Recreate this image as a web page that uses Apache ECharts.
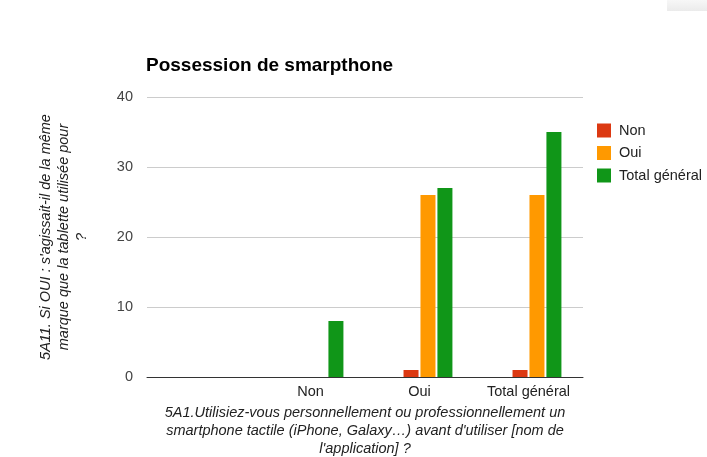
<!DOCTYPE html>
<html>
<head>
<meta charset="utf-8">
<script src="https://cdn.jsdelivr.net/npm/echarts@6/dist/echarts.min.js"></script>
<style>
html,body{margin:0;padding:0;background:#fff;}
#c{width:707px;height:457px;}
</style>
</head>
<body>
<div id="c"></div>
<script>
var categories = ['', 'Non', 'Oui', 'Total général'];
var seriesNames = ['Non', 'Oui', 'Total général'];
var valuesEmpty = [null, null, null, null];
var valuesNon = [null, null, 1, 1];
var valuesOui = [null, null, 26, 26];
var valuesTotal = [null, 8, 27, 35];
var yTicks = [0, 10, 20, 30, 40];

var FONT = '"Liberation Sans", Arial, sans-serif';
var chart = echarts.init(document.getElementById('c'), null, {renderer: 'canvas'});
chart.setOption({
  animation: false,
  backgroundColor: '#fff',
  textStyle: {fontFamily: FONT},
  graphic: [{
    type: 'rect', left: 667, top: 0, shape: {width: 40, height: 11}, silent: true,
    style: {fill: {type: 'linear', x: 0, y: 0, x2: 0, y2: 1, colorStops: [{offset: 0, color: '#f7f7f7'}, {offset: 1, color: '#ebebeb'}]}}
  }],
  title: {
    text: 'Possession de smarpthone',
    left: 141, top: 51,
    textStyle: {fontFamily: FONT, fontSize: 19, fontWeight: 'bold', color: '#000'}
  },
  legend: {
    data: seriesNames,
    orient: 'vertical',
    left: 592, top: 118,
    itemWidth: 14, itemHeight: 14, itemGap: 7.5,
    icon: 'rect',
    textStyle: {fontFamily: FONT, fontSize: 14.5, color: '#222', lineHeight: 14, padding: [0,0,0,3]}
  },
  grid: {left: 147, right: 124, top: 97, bottom: 80, containLabel: false, outerBoundsMode: 'none'},
  xAxis: {
    type: 'category',
    data: categories,
    axisLine: {show: true, lineStyle: {color: '#333', width: 1}},
    axisTick: {show: false},
    axisLabel: {fontFamily: FONT, fontSize: 14.5, color: '#222', margin: 7},
    name: "5A1.Utilisiez-vous personnellement ou professionnellement un\nsmartphone tactile (iPhone, Galaxy\u2026) avant d'utiliser [nom de\nl'application] ?",
    nameLocation: 'middle',
    nameGap: 26,
    nameTextStyle: {fontFamily: FONT, fontSize: 14.5, fontStyle: 'italic', color: '#222', lineHeight: 18, verticalAlign: 'top'}
  },
  yAxis: {
    type: 'value',
    min: yTicks[0], max: yTicks[yTicks.length - 1], interval: 10,
    axisLine: {show: false},
    axisTick: {show: false},
    splitLine: {lineStyle: {color: '#cccccc', width: 1}},
    axisLabel: {fontFamily: FONT, fontSize: 14.5, color: '#444', margin: 14},
    name: "5A11. Si OUI : s'agissait-il de la même\nmarque que la tablette utilisée pour\n?",
    nameLocation: 'middle',
    nameGap: 56,
    nameTextStyle: {fontFamily: FONT, fontSize: 14.5, fontStyle: 'italic', color: '#222', lineHeight: 18}
  },
  series: [
    {name: '_', type: 'bar', data: valuesEmpty, barWidth: 15, barGap: '13%', itemStyle: {color: 'rgba(0,0,0,0)'}, silent: true},
    {name: 'Non', type: 'bar', data: valuesNon, barWidth: 15, barGap: '13%', itemStyle: {color: '#dc3912'}},
    {name: 'Oui', type: 'bar', data: valuesOui, barWidth: 15, barGap: '13%', itemStyle: {color: '#ff9900'}},
    {name: 'Total général', type: 'bar', data: valuesTotal, barWidth: 15, barGap: '13%', itemStyle: {color: '#109618'}}
  ],
  color: ['rgba(0,0,0,0)', '#dc3912', '#ff9900', '#109618']
});
</script>
</body>
</html>
